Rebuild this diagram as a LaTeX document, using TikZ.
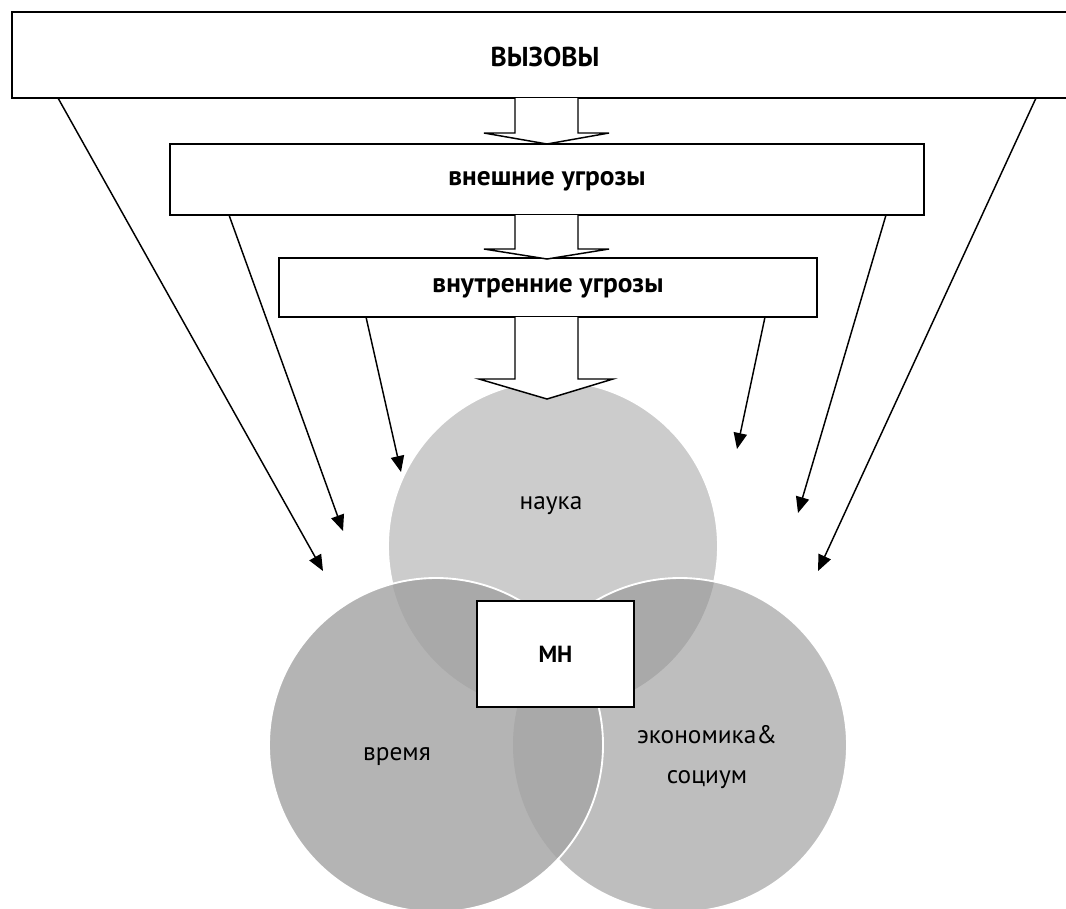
\documentclass[tikz,border=0pt]{standalone}
\usepackage{fontspec}
\setmainfont{PT Sans}
\usetikzlibrary{arrows.meta}
\definecolor{topc}{HTML}{CCCCCC}
\definecolor{leftc}{HTML}{B4B4B4}
\definecolor{rightc}{HTML}{BEBEBE}
\definecolor{ovc}{HTML}{A9A9A9}
\tikzset{
  box/.style={draw=black, line width=1.1pt, fill=white, inner sep=0pt},
  boxtext/.style={font=\fontsize{20.5}{24}\selectfont\bfseries, inner sep=0pt},
  blockarrow/.style={draw=black, line width=1.1pt, fill=white, line join=miter},
  link/.style={draw=black, line width=1.1pt, -{Triangle[length=12pt,width=10pt]}},
  clabel/.style={font=\fontsize{19}{30}\selectfont, align=center, inner sep=0pt},
  rim/.style={white, line width=1.4pt},
}
\begin{document}
\begin{tikzpicture}[x=0.75pt,y=-0.75pt]
\useasboundingbox (0,0) rectangle (1066,908);
% circle centres
\coordinate (T) at (553,546);
\coordinate (R) at (680,745);
\coordinate (L) at (436,745);
\def\rT{165}\def\rR{167}\def\rL{167}
% top circle
\fill[topc] (T) circle [radius=\rT];
\draw[rim] (T) circle [radius=\rT];
% right circle
\fill[rightc] (R) circle [radius=\rR];
\begin{scope}\clip (T) circle [radius=\rT]; \fill[ovc] (R) circle [radius=\rR];\end{scope}
\draw[rim] (R) circle [radius=\rR];
% left circle
\fill[leftc] (L) circle [radius=\rL];
\begin{scope}\clip (L) circle [radius=\rL]; \fill[ovc] (T) circle [radius=\rT]; \fill[ovc] (R) circle [radius=\rR];\end{scope}
\draw[rim] (L) circle [radius=\rL];
% circle labels
\node[clabel] (nauka) at (551,506) {наука};
\node[clabel] (vremya) at (397,757) {время};
\node[clabel] (econ) at (707,757) {экономика\&\\социум};
% boxes
\path[box] (12,12) rectangle (1080,98);
\node[boxtext] (vyz) at (545,57) {ВЫЗОВЫ};
\path[box] (170,144) rectangle (924,215);
\node[boxtext] (vnesh) at (547,181) {внешние угрозы};
\path[box] (279,258) rectangle (817,317);
\node[boxtext] (vnutr) at (548,288) {внутренние угрозы};
\node[box, minimum width=117.75pt, minimum height=79.5pt, font=\fontsize{17.5}{20}\selectfont\bfseries] (mn) at (555.5,654) {МН};
% block arrows
\path[blockarrow] (515,98) -- (515,133) -- (484,133) -- (547,144) -- (609,133) -- (578,133) -- (578,98);
\path[blockarrow] (515,215) -- (515,249) -- (484,249) -- (547,259) -- (609,249) -- (578,249) -- (578,215);
\path[blockarrow] (515,317) -- (515,379) -- (479,379) -- (547,399) -- (613,379) -- (578,379) -- (578,317);
% connector ends
\coordinate (a1) at (58,98);   \coordinate (b1) at (323,571);
\coordinate (a2) at (229,215); \coordinate (b2) at (343,531);
\coordinate (a3) at (366,317); \coordinate (b3) at (401,472);
\coordinate (a4) at (765,317); \coordinate (b4) at (737,449);
\coordinate (a5) at (886,215); \coordinate (b5) at (798,513);
\coordinate (a6) at (1036,98); \coordinate (b6) at (818,571);
\foreach \i in {1,...,6} {\draw[link] (a\i) -- (b\i);}
\end{tikzpicture}
\end{document}
